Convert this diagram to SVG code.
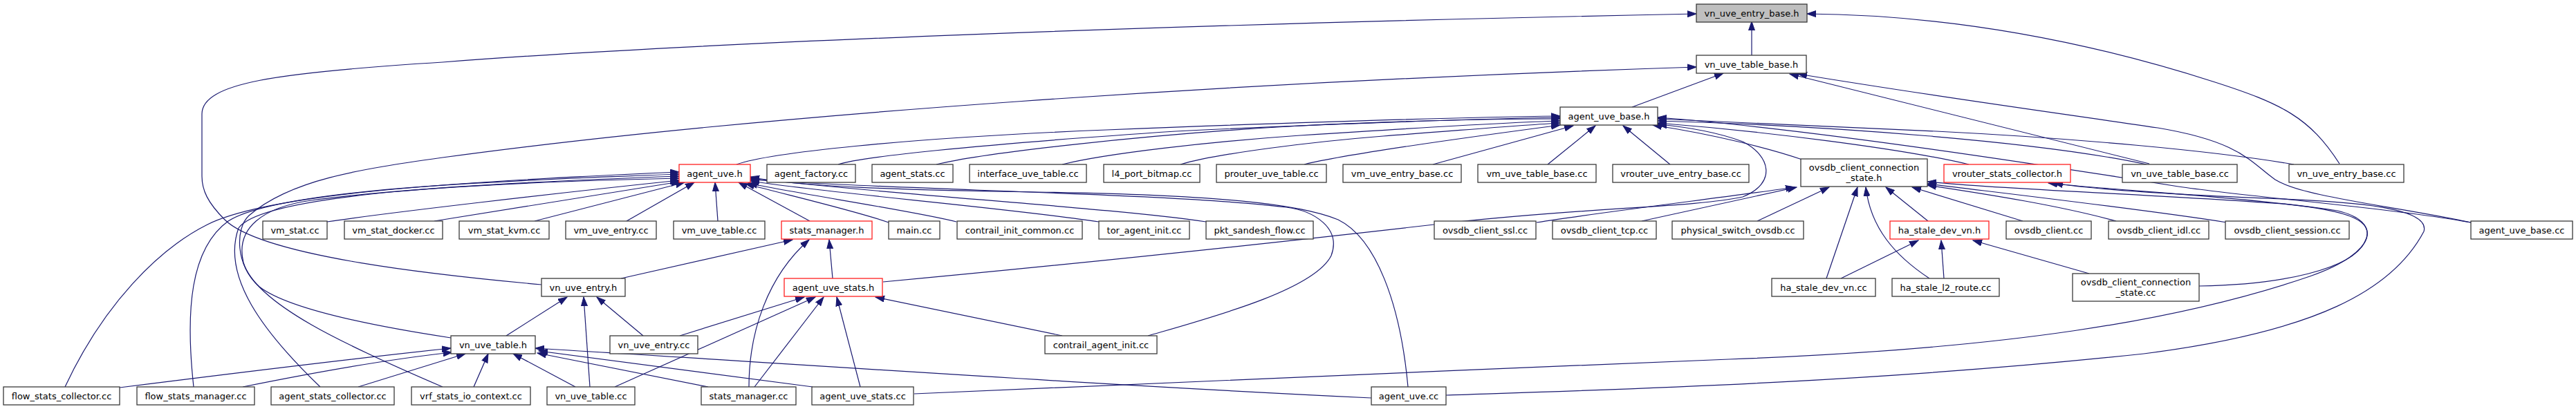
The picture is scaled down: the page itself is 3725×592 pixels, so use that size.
<svg xmlns="http://www.w3.org/2000/svg" width="3725" height="592" viewBox="0 0 3725 592">
<style>
.n rect{fill:#fff;stroke:#3a3a3a;stroke-width:1.3}
.n.r rect{stroke:#ff2020}
.n.root rect{fill:#bfbfbf}
.n text{font-family:"DejaVu Sans","Liberation Sans",sans-serif;font-size:13px;fill:#000;text-anchor:middle}
#edges path{fill:none;stroke:#191970;stroke-width:1.2;marker-end:url(#ah)}
</style>
<defs>
<marker id="ah" markerUnits="userSpaceOnUse" markerWidth="14" markerHeight="10" viewBox="0 0 14 10" refX="13" refY="5" orient="auto">
<path d="M0,0.5 L13,5 L0,9.5 z" fill="#191970" stroke="#191970" stroke-width="1"/>
</marker>
</defs>
<rect width="3725" height="592" fill="#fff"/>
<g id="edges">
<path d="M2533,80 L2533,31"/>
<path d="M783,412 C640,399 380,372 325,318 C300,293 292,275 292,255 L292,165 C292,120 400,105 640,90 C1000,62 1700,35 2453,20"/>
<path d="M3383,237 C3340,170 3300,150 3200,118 C3050,70 2850,22 2613,20"/>
<path d="M2360,155 L2492,106"/>
<path d="M652,489 C560,475 420,450 375,415 C340,385 340,330 360,312 C420,260 520,245 640,228 C1100,165 1800,118 2453,97"/>
<path d="M3108,237 L2588,107"/>
<path d="M3573,322 C3460,298 3330,285 3290,260 C3255,235 3240,205 3120,185 C2950,160 2800,140 2600,107"/>
<path d="M1065,238 C1110,222 1300,200 1600,188 C1900,176 2100,170 2256,168"/>
<path d="M1212,238 C1240,228 1400,210 1700,190 C1950,178 2150,172 2256,170"/>
<path d="M1354,238 C1420,222 1650,195 1880,182 C2050,174 2180,172 2256,172"/>
<path d="M1536,238 C1600,222 1750,205 1880,196 C2050,185 2180,177 2256,175"/>
<path d="M1707,238 C1760,222 1900,205 2000,197 C2120,188 2200,181 2256,178"/>
<path d="M1886,238 C1950,222 2150,195 2256,181"/>
<path d="M2072,238 L2275,182"/>
<path d="M2238,238 L2307,182"/>
<path d="M2415,238 L2347,182"/>
<path d="M2606,231 C2560,215 2480,195 2390,181"/>
<path d="M2847,238 C2750,215 2550,190 2397,178"/>
<path d="M3104,238 C2950,205 2650,182 2397,175"/>
<path d="M3317,238 C3200,218 3000,200 2800,190 C2600,180 2480,175 2397,172"/>
<path d="M3573,322 C3450,300 3250,285 3150,270 C2900,230 2600,185 2397,170"/>
<path d="M1277,408 C1600,378 1900,345 2100,322 C2300,300 2450,300 2520,285 C2570,265 2560,225 2520,205 C2480,190 2430,183 2397,180"/>
<path d="M473,321 C560,308 800,280 982,261"/>
<path d="M628,320 L983,263"/>
<path d="M773,320 L990,264"/>
<path d="M906,320 L1004,264"/>
<path d="M1038,320 L1034,264"/>
<path d="M1171,320 L1068,264"/>
<path d="M1285,322 C1240,306 1150,285 1078,266"/>
<path d="M1383,321 C1320,305 1150,280 1082,265"/>
<path d="M1589,321 C1450,300 1200,280 1085,262"/>
<path d="M1744,321 C1600,300 1300,283 1085,258"/>
<path d="M2036,560 C2025,440 1990,345 1935,318 C1880,295 1760,282 1500,278 C1300,275 1150,270 1085,256"/>
<path d="M1660,486 C1750,460 1900,420 1925,370 C1940,330 1900,305 1860,300 C1700,280 1300,275 1085,260"/>
<path d="M94,560 C150,440 230,360 300,325 C380,285 600,265 982,249"/>
<path d="M280,560 C268,450 275,360 330,320 C400,275 700,262 982,252"/>
<path d="M463,560 C380,480 320,400 345,330 C380,280 700,265 982,255"/>
<path d="M640,560 C500,500 370,440 352,380 C340,330 380,300 450,290 C600,270 800,262 982,258"/>
<path d="M898,403 L1146,347"/>
<path d="M1083,560 C1083,480 1110,400 1170,347"/>
<path d="M1204,403 L1199,347"/>
<path d="M983,486 L1163,430"/>
<path d="M889,560 L1179,430"/>
<path d="M1091,560 L1191,430"/>
<path d="M1244,560 L1210,430"/>
<path d="M1536,486 L1266,430"/>
<path d="M732,486 L820,430"/>
<path d="M853,560 L844,430"/>
<path d="M930,486 L863,430"/>
<path d="M173,561 C300,545 500,520 652,504"/>
<path d="M351,560 C450,540 560,520 654,510"/>
<path d="M518,560 L673,512"/>
<path d="M685,560 L706,512"/>
<path d="M832,560 L742,512"/>
<path d="M1024,560 L777,511"/>
<path d="M1175,560 L779,508"/>
<path d="M1983,576 C1600,558 1200,530 774,504"/>
<path d="M2662,403 L2774,348"/>
<path d="M2811,403 L2807,348"/>
<path d="M3021,396 L2853,348"/>
<path d="M2222,322 C2330,305 2500,285 2595,271"/>
<path d="M2374,320 L2598,271"/>
<path d="M2541,320 L2645,271"/>
<path d="M2641,403 L2686,271"/>
<path d="M2790,403 C2740,370 2705,330 2698,271"/>
<path d="M2788,320 L2727,271"/>
<path d="M2925,320 L2765,271"/>
<path d="M3060,320 C2980,298 2880,282 2787,268"/>
<path d="M3220,322 C3100,303 2900,280 2787,266"/>
<path d="M3180,414 C3300,412 3400,390 3420,350 C3435,320 3400,305 3300,295 C3100,280 2900,275 2787,263"/>
<path d="M1322,570 C1600,560 2100,535 2500,520 C2900,505 3150,465 3340,400 C3440,365 3445,320 3380,305 C3250,285 3050,275 2962,265"/>
<path d="M2091,572 C2300,565 2700,555 3100,512 C3350,480 3460,420 3505,335 C3515,300 3400,292 3300,288 C3150,282 3030,275 2970,265"/>
</g>
<g id="n_veb" class="n root"><rect x="2453" y="6" width="160" height="26"/><text x="2533" y="23.5">vn_uve_entry_base.h</text></g>
<g id="n_vtb" class="n"><rect x="2453" y="80" width="159" height="26"/><text x="2532.5" y="97.5">vn_uve_table_base.h</text></g>
<g id="n_aubh" class="n"><rect x="2256" y="155" width="141" height="26"/><text x="2326.5" y="172.5">agent_uve_base.h</text></g>
<g id="n_auh" class="n r"><rect x="982" y="238" width="103" height="26"/><text x="1033.5" y="255.5">agent_uve.h</text></g>
<g id="n_af" class="n"><rect x="1109" y="238" width="128" height="26"/><text x="1173" y="255.5">agent_factory.cc</text></g>
<g id="n_as" class="n"><rect x="1261" y="238" width="117" height="26"/><text x="1319.5" y="255.5">agent_stats.cc</text></g>
<g id="n_iut" class="n"><rect x="1402" y="238" width="169" height="26"/><text x="1486.5" y="255.5">interface_uve_table.cc</text></g>
<g id="n_l4" class="n"><rect x="1596" y="238" width="139" height="26"/><text x="1665.5" y="255.5">l4_port_bitmap.cc</text></g>
<g id="n_put" class="n"><rect x="1759" y="238" width="159" height="26"/><text x="1838.5" y="255.5">prouter_uve_table.cc</text></g>
<g id="n_vmeb" class="n"><rect x="1942" y="238" width="171" height="26"/><text x="2027.5" y="255.5">vm_uve_entry_base.cc</text></g>
<g id="n_vmtb" class="n"><rect x="2137" y="238" width="171" height="26"/><text x="2222.5" y="255.5">vm_uve_table_base.cc</text></g>
<g id="n_vreb" class="n"><rect x="2332" y="238" width="197" height="26"/><text x="2430.5" y="255.5">vrouter_uve_entry_base.cc</text></g>
<g id="n_ocsh" class="n"><rect x="2604" y="230" width="183" height="40"/><text x="2695.5" y="247">ovsdb_client_connection</text><text x="2695.5" y="262">_state.h</text></g>
<g id="n_vsch" class="n r"><rect x="2811" y="238" width="183" height="26"/><text x="2902.5" y="255.5">vrouter_stats_collector.h</text></g>
<g id="n_vtbc" class="n"><rect x="3069" y="238" width="166" height="26"/><text x="3152" y="255.5">vn_uve_table_base.cc</text></g>
<g id="n_vebc" class="n"><rect x="3310" y="238" width="166" height="26"/><text x="3393" y="255.5">vn_uve_entry_base.cc</text></g>
<g id="n_vmstat" class="n"><rect x="380" y="320" width="93" height="26"/><text x="426.5" y="337.5">vm_stat.cc</text></g>
<g id="n_vmsd" class="n"><rect x="498" y="320" width="142" height="26"/><text x="569" y="337.5">vm_stat_docker.cc</text></g>
<g id="n_vmsk" class="n"><rect x="664" y="320" width="130" height="26"/><text x="729" y="337.5">vm_stat_kvm.cc</text></g>
<g id="n_vmue" class="n"><rect x="818" y="320" width="131" height="26"/><text x="883.5" y="337.5">vm_uve_entry.cc</text></g>
<g id="n_vmut" class="n"><rect x="974" y="320" width="132" height="26"/><text x="1040" y="337.5">vm_uve_table.cc</text></g>
<g id="n_smh" class="n r"><rect x="1130" y="320" width="131" height="26"/><text x="1195.5" y="337.5">stats_manager.h</text></g>
<g id="n_main" class="n"><rect x="1285" y="320" width="74" height="26"/><text x="1322" y="337.5">main.cc</text></g>
<g id="n_cic" class="n"><rect x="1384" y="320" width="181" height="26"/><text x="1474.5" y="337.5">contrail_init_common.cc</text></g>
<g id="n_tai" class="n"><rect x="1589" y="320" width="131" height="26"/><text x="1654.5" y="337.5">tor_agent_init.cc</text></g>
<g id="n_psf" class="n"><rect x="1744" y="320" width="155" height="26"/><text x="1821.5" y="337.5">pkt_sandesh_flow.cc</text></g>
<g id="n_ossl" class="n"><rect x="2074" y="320" width="147" height="26"/><text x="2147.5" y="337.5">ovsdb_client_ssl.cc</text></g>
<g id="n_otcp" class="n"><rect x="2245" y="320" width="150" height="26"/><text x="2320" y="337.5">ovsdb_client_tcp.cc</text></g>
<g id="n_pso" class="n"><rect x="2418" y="320" width="190" height="26"/><text x="2513" y="337.5">physical_switch_ovsdb.cc</text></g>
<g id="n_hsdh" class="n r"><rect x="2733" y="320" width="143" height="26"/><text x="2804.5" y="337.5">ha_stale_dev_vn.h</text></g>
<g id="n_oc" class="n"><rect x="2901" y="320" width="123" height="26"/><text x="2962.5" y="337.5">ovsdb_client.cc</text></g>
<g id="n_oci" class="n"><rect x="3049" y="320" width="145" height="26"/><text x="3121.5" y="337.5">ovsdb_client_idl.cc</text></g>
<g id="n_ocs" class="n"><rect x="3218" y="320" width="179" height="26"/><text x="3307.5" y="337.5">ovsdb_client_session.cc</text></g>
<g id="n_aubc" class="n"><rect x="3573" y="320" width="147" height="26"/><text x="3646.5" y="337.5">agent_uve_base.cc</text></g>
<g id="n_vueh" class="n"><rect x="783" y="403" width="121" height="26"/><text x="843.5" y="420.5">vn_uve_entry.h</text></g>
<g id="n_aush" class="n r"><rect x="1134" y="403" width="142" height="26"/><text x="1205" y="420.5">agent_uve_stats.h</text></g>
<g id="n_hsdc" class="n"><rect x="2562" y="403" width="150" height="26"/><text x="2637" y="420.5">ha_stale_dev_vn.cc</text></g>
<g id="n_hslr" class="n"><rect x="2736" y="403" width="155" height="26"/><text x="2813.5" y="420.5">ha_stale_l2_route.cc</text></g>
<g id="n_ocsc" class="n"><rect x="2997" y="396" width="183" height="40"/><text x="3088.5" y="413">ovsdb_client_connection</text><text x="3088.5" y="428">_state.cc</text></g>
<g id="n_vuth" class="n"><rect x="652" y="486" width="122" height="26"/><text x="713" y="503.5">vn_uve_table.h</text></g>
<g id="n_vuec" class="n"><rect x="882" y="486" width="127" height="26"/><text x="945.5" y="503.5">vn_uve_entry.cc</text></g>
<g id="n_cai" class="n"><rect x="1511" y="486" width="162" height="26"/><text x="1592" y="503.5">contrail_agent_init.cc</text></g>
<g id="n_fsc" class="n"><rect x="5" y="560" width="168" height="26"/><text x="89" y="577.5">flow_stats_collector.cc</text></g>
<g id="n_fsm" class="n"><rect x="198" y="560" width="170" height="26"/><text x="283" y="577.5">flow_stats_manager.cc</text></g>
<g id="n_asc" class="n"><rect x="392" y="560" width="178" height="26"/><text x="481" y="577.5">agent_stats_collector.cc</text></g>
<g id="n_vsio" class="n"><rect x="595" y="560" width="172" height="26"/><text x="681" y="577.5">vrf_stats_io_context.cc</text></g>
<g id="n_vutc" class="n"><rect x="791" y="560" width="127" height="26"/><text x="854.5" y="577.5">vn_uve_table.cc</text></g>
<g id="n_smc" class="n"><rect x="1014" y="560" width="137" height="26"/><text x="1082.5" y="577.5">stats_manager.cc</text></g>
<g id="n_ausc" class="n"><rect x="1174" y="560" width="147" height="26"/><text x="1247.5" y="577.5">agent_uve_stats.cc</text></g>
<g id="n_auc" class="n"><rect x="1983" y="560" width="108" height="26"/><text x="2037" y="577.5">agent_uve.cc</text></g>
</svg>
